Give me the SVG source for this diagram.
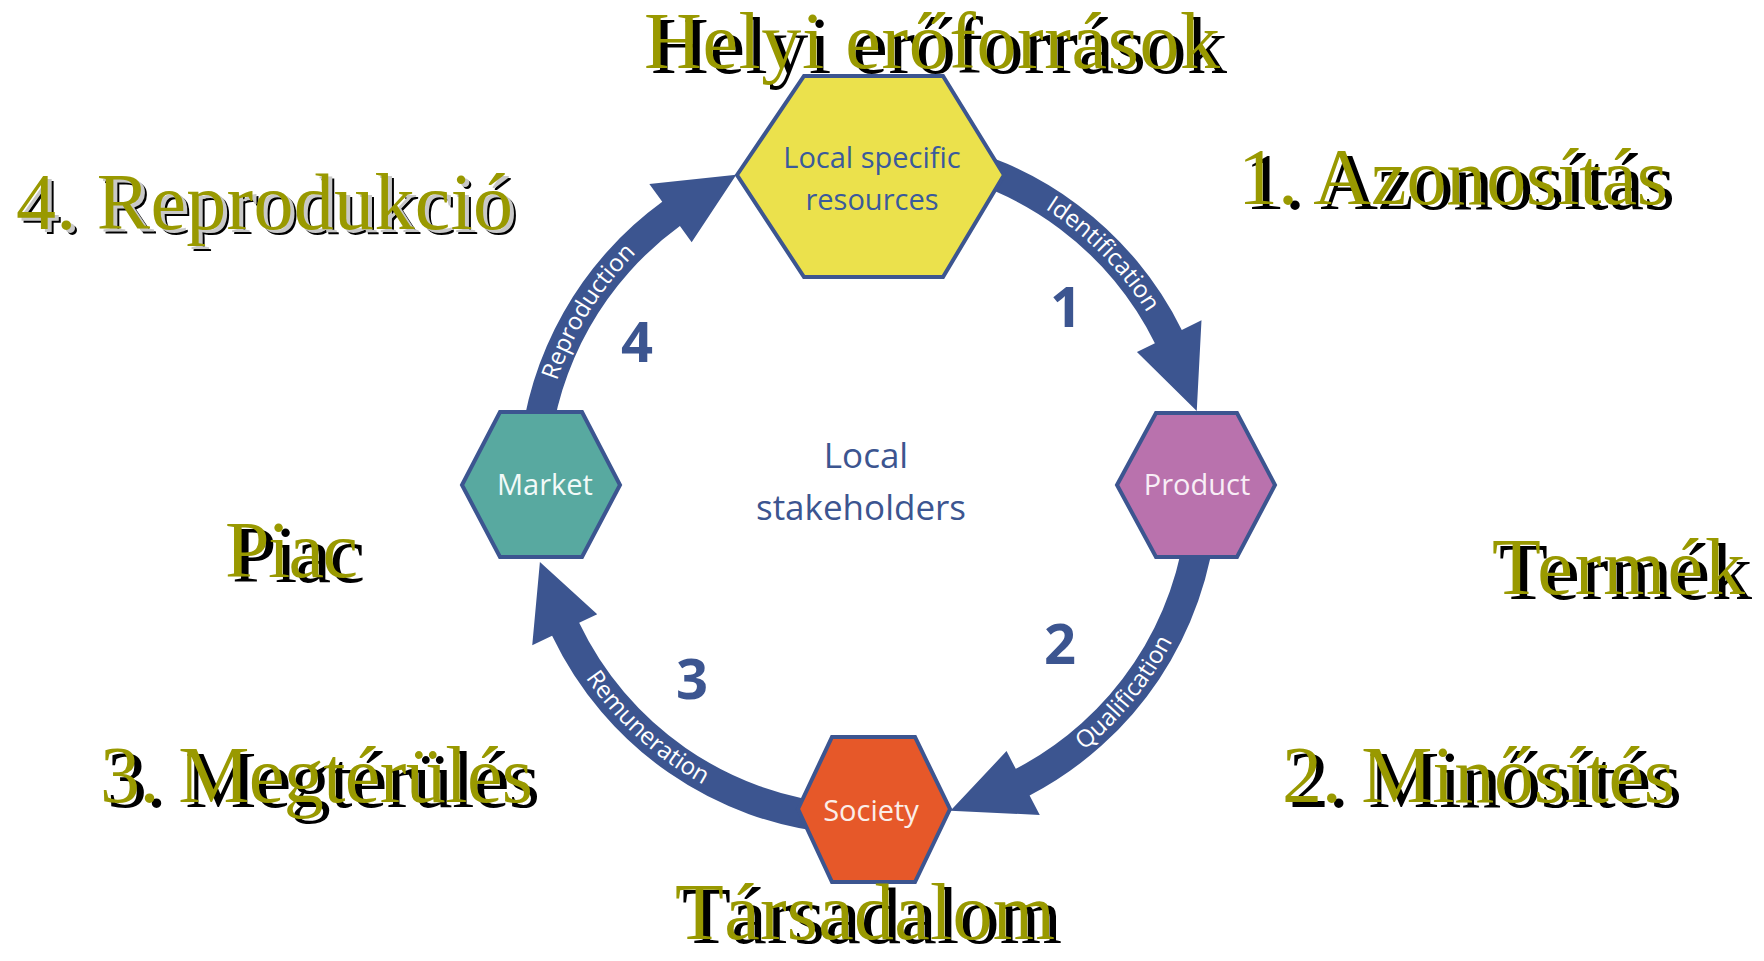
<svg xmlns="http://www.w3.org/2000/svg" width="1764" height="961" viewBox="0 0 1764 961">
<style>
.big{font-family:"Liberation Serif","Times New Roman",serif;font-size:80px;}
.olive{fill:#999900;}
.shad{fill:#000000;}
.gray{fill:#c8c8c8;}
.hex{stroke:#3c5590;stroke-width:4;stroke-linejoin:miter;}
.arrow{fill:#3c5590;}
.lbl{font-family:"Open Sans","Noto Sans",sans-serif;font-size:24px;fill:#ffffff;}
.in{font-family:"Open Sans","Noto Sans",sans-serif;text-anchor:middle;}
.num{font-family:"Open Sans","Noto Sans",sans-serif;font-weight:bold;font-size:56px;fill:#3c5590;text-anchor:middle;}
</style>
<defs>
<path id="pIdent" d="M 1021.99 195.39 A 328 328 0 0 1 1160.25 336.09"/>
<path id="pRepro" d="M 549.74 405.65 A 328 328 0 0 1 654.98 235.59"/>
<path id="pQual" d="M 1059.24 768.53 A 342 342 0 0 0 1185.10 613.12"/>
<path id="pRemu" d="M 571.82 656 A 342 342 0 0 0 726.18 796.21"/>
</defs>
<rect width="1764" height="961" fill="#ffffff"/>

<g id="connectors">
<path class="arrow" d="M 928.78 140.32 A 350 350 0 0 1 1181.77 329.93 L 1201.49 320.18 L 1196.75 410.91 L 1136.95 352.08 L 1154.88 343.22 A 320 320 0 0 0 923.57 169.86 Z"/>
<path class="arrow" d="M 1216.67 515.51 A 350 350 0 0 1 1029.61 795.45 L 1039.77 814.97 L 950.42 810.74 L 1006.53 751.10 L 1015.76 768.84 A 320 320 0 0 0 1186.78 512.89 Z"/>
<path class="arrow" d="M 837.49 833.67 A 350 350 0 0 1 552.09 635.68 L 532.24 645.15 L 539.91 561.95 L 597.22 614.15 L 579.17 622.76 A 320 320 0 0 0 840.11 803.78 Z"/>
<path class="arrow" d="M 519.33 454.49 A 350 350 0 0 1 662.27 201.84 L 649.34 184.04 L 736.32 174.79 L 691.66 242.29 L 679.91 226.11 A 320 320 0 0 0 549.22 457.11 Z"/>
<text class="lbl" text-anchor="middle"><textPath href="#pIdent" startOffset="50%">Identification</textPath></text>
<text class="lbl" text-anchor="middle"><textPath href="#pQual" startOffset="50%">Qualification</textPath></text>
<text class="lbl" text-anchor="middle"><textPath href="#pRemu" startOffset="50%">Remuneration</textPath></text>
<text class="lbl" text-anchor="middle"><textPath href="#pRepro" startOffset="50%">Reproduction</textPath></text>
</g>

<g id="node-resources">
<polygon class="hex" fill="#ebe14c" points="737,175 804,76 943,76 1004,175 943,277 804,277"/>
<text class="in" x="872" y="168" font-size="29" fill="#3a5a9c">Local specific</text>
<text class="in" x="872" y="210" font-size="29" fill="#3a5a9c">resources</text>
</g>
<g id="node-product">
<polygon class="hex" fill="#b972ad" points="1117,485 1156,413 1237,413 1275,485 1237,557 1156,557"/>
<text class="in" x="1197" y="495" font-size="29" fill="#f8eef6">Product</text>
</g>
<g id="node-market">
<polygon class="hex" fill="#58a9a0" points="462,485 500,412 582,412 620,485 582,557 500,557"/>
<text class="in" x="545" y="495" font-size="29" fill="#f2faf8">Market</text>
</g>
<g id="node-society">
<polygon class="hex" fill="#e65829" points="798,809 832,737 915,737 950,809 915,882 832,882"/>
<text class="in" x="871" y="821" font-size="29" fill="#fbeee8">Society</text>
</g>
<g id="node-stakeholders">
<text class="in" x="866" y="468" font-size="35" fill="#3c5590">Local</text>
<text class="in" x="861" y="520" font-size="35" fill="#3c5590">stakeholders</text>
</g>
<g id="numbers">
<text class="num" x="1066" y="327">1</text>
<text class="num" x="1060" y="664">2</text>
<text class="num" x="692" y="699">3</text>
<text class="num" x="637" y="362">4</text>
</g>

<g id="titles">
<text class="big shad" x="651" y="73" textLength="576" lengthAdjust="spacing">Helyi erőforrások</text>
<text class="big olive" x="644" y="68" textLength="576" lengthAdjust="spacing">Helyi erőforrások</text>

<text class="big shad" x="1245" y="209" textLength="430" lengthAdjust="spacing">1. Azonosítás</text>
<text class="big olive" x="1238" y="204" textLength="430" lengthAdjust="spacing">1. Azonosítás</text>

<text class="big shad" x="22" y="234" textLength="497" lengthAdjust="spacing">4. Reprodukció</text>
<text class="big gray" x="20" y="232" textLength="497" lengthAdjust="spacing">4. Reprodukció</text>
<text class="big olive" x="16" y="229" textLength="497" lengthAdjust="spacing">4. Reprodukció</text>

<text class="big shad" x="232" y="582" textLength="133" lengthAdjust="spacing">Piac</text>
<text class="big olive" x="225" y="577" textLength="133" lengthAdjust="spacing">Piac</text>

<text class="big shad" x="1499" y="599" textLength="253" lengthAdjust="spacing">Termék</text>
<text class="big olive" x="1492" y="594" textLength="253" lengthAdjust="spacing">Termék</text>

<text class="big shad" x="107" y="807" textLength="433" lengthAdjust="spacing">3. Megtérülés</text>
<text class="big olive" x="100" y="802" textLength="433" lengthAdjust="spacing">3. Megtérülés</text>

<text class="big shad" x="1289" y="807" textLength="393" lengthAdjust="spacing">2. Minősítés</text>
<text class="big olive" x="1282" y="802" textLength="393" lengthAdjust="spacing">2. Minősítés</text>

<text class="big shad" x="682" y="943" textLength="380" lengthAdjust="spacing">Társadalom</text>
<text class="big olive" x="675" y="939" textLength="380" lengthAdjust="spacing">Társadalom</text>
</g>
</svg>
